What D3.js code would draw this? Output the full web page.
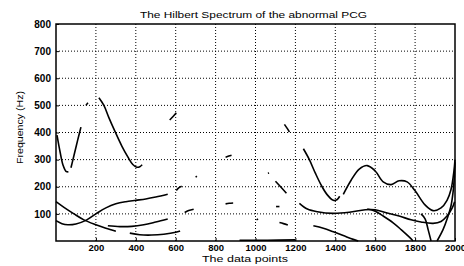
<!DOCTYPE html>
<html>
<head>
<meta charset="utf-8">
<script src="https://cdn.jsdelivr.net/npm/d3@7"></script>
<style>
  body { margin: 0; background: #fff; }
  text { font-family: "Liberation Sans", Arial, sans-serif; fill: #000; }
</style>
</head>
<body>
<div id="chart"></div>
<script>
// tick values
const xTicks = [200, 400, 600, 800, 1000, 1200, 1400, 1600, 1800, 2000];
const yTicks = [100, 200, 300, 400, 500, 600, 700, 800];

// instantaneous frequency traces, [data point, Hz]
const imfDipLeft  = [[5, 390], [20, 330], [35, 280], [50, 257], [62, 255]];
const imfRiseLeft = [[75, 270], [90, 315], [108, 370], [125, 420]];
const imfHighFall = [[215, 528], [240, 500], [265, 455], [295, 405], [330, 350], [360, 310], [385, 282], [405, 272], [420, 274], [432, 281]];
const imfLowRise  = [[0, 75], [30, 64], [60, 60], [100, 63], [150, 76], [200, 100], [250, 122], [300, 137], [350, 145], [400, 150], [450, 155], [500, 162], [560, 172]];
const imfLowFall  = [[0, 145], [40, 124], [90, 100], [140, 78], [200, 60], [250, 47], [300, 36]];
const imfMidFlat  = [[260, 56], [320, 53], [380, 54], [440, 60], [500, 70], [560, 81]];
const imfBottom   = [[370, 29], [420, 23], [480, 22], [540, 25], [600, 32], [622, 37]];
const imfRightA   = [[1240, 340], [1270, 300], [1300, 250], [1330, 205], [1360, 170], [1390, 150], [1408, 152], [1422, 165]];
const imfRightB   = [[1440, 172], [1480, 225], [1520, 265], [1560, 278], [1600, 258], [1640, 218], [1680, 208], [1720, 222], [1760, 218], [1800, 185], [1850, 133], [1890, 112], [1930, 122], [1960, 150], [1980, 190], [1995, 260], [2000, 300]];
const imfRightMid = [[1220, 139], [1260, 118], [1310, 108], [1390, 102], [1470, 106], [1550, 115], [1600, 115], [1660, 103], [1720, 92], [1780, 78], [1830, 70], [1890, 65], [1930, 72], [1960, 92], [1985, 120], [1998, 145]];
const imfRightDn  = [[1560, 118], [1600, 110], [1640, 92], [1690, 67], [1730, 42], [1770, 15], [1790, 0]];
const imfDropJ    = [[1830, 100], [1850, 82], [1866, 40], [1880, 0]];
const imfRiseK    = [[1910, 0], [1940, 42], [1962, 85], [1980, 130], [1991, 185], [1997, 240], [2000, 290]];
const imfRightLow = [[1290, 56], [1340, 47], [1390, 34], [1440, 20], [1490, 6], [1515, 0]];

// short broken fragments in the middle of the record
const fragments = [
  [[570, 446], [588, 460], [603, 473]],
  [[1145, 430], [1158, 416], [1170, 402]],
  [[850, 309], [866, 313], [880, 316]],
  [[1100, 220], [1128, 198], [1155, 176]],
  [[1120, 68], [1140, 64], [1162, 59]],
  [[603, 186], [615, 196], [630, 202]],
  [[645, 105], [665, 112], [690, 117]],
  [[850, 137], [868, 139], [888, 140]],
  [[1103, 127], [1112, 127], [1120, 127]],
  [[920, 3], [1060, 3], [1200, 4]],
  [[150, 500], [160, 510]],
  [[700, 235], [706, 239]],
  [[1062, 250], [1068, 251]],
  [[1005, 78], [1013, 81]]
];

const curves = [imfDipLeft, imfRiseLeft, imfHighFall, imfLowRise, imfLowFall, imfMidFlat, imfBottom,
  imfRightA, imfRightB, imfRightMid, imfRightDn, imfDropJ, imfRiseK, imfRightLow];

const W = 464, H = 266;
const margin = { top: 24, right: 9, bottom: 25, left: 56 };
const width = W - margin.left - margin.right;
const height = H - margin.top - margin.bottom;

const svg = d3.select('#chart').append('svg')
  .attr('width', W).attr('height', H);

const g = svg.append('g')
  .attr('transform', 'translate(' + margin.left + ',' + margin.top + ')');

const x = d3.scaleLinear().domain([0, 2000]).range([0, width]);
const y = d3.scaleLinear().domain([0, 800]).range([height, 0]);

// dotted grid
g.append('g').selectAll('line').data(xTicks.slice(0, -1)).join('line')
  .attr('x1', d => x(d)).attr('x2', d => x(d))
  .attr('y1', 0).attr('y2', height)
  .attr('stroke', '#000').attr('stroke-width', 1)
  .attr('stroke-dasharray', '1,2');
g.append('g').selectAll('line').data(yTicks.slice(0, -1)).join('line')
  .attr('x1', 0).attr('x2', width)
  .attr('y1', d => y(d)).attr('y2', d => y(d))
  .attr('stroke', '#000').attr('stroke-width', 1)
  .attr('stroke-dasharray', '1,2');

// axes, matlab style ticks pointing inward
const xAxis = g.append('g').attr('transform', 'translate(0,' + height + ')')
  .call(d3.axisBottom(x).tickValues(xTicks).tickFormat(d3.format('d')).tickSize(-3).tickPadding(3));
const yAxis = g.append('g')
  .call(d3.axisLeft(y).tickValues(yTicks).tickFormat(d3.format('d')).tickSize(-3).tickPadding(5));

[xAxis, yAxis].forEach(a => {
  a.select('.domain').remove();
  a.selectAll('line').attr('stroke', '#000');
  a.selectAll('text')
    .style('font-family', '"Liberation Sans", Arial, sans-serif')
    .style('font-weight', 'bold');
});
xAxis.selectAll('text').style('font-size', '9.5px');
yAxis.selectAll('text').style('font-size', '10px');

// box
g.append('rect')
  .attr('width', width).attr('height', height)
  .attr('fill', 'none').attr('stroke', '#000').attr('stroke-width', 1.5);

const line = d3.line()
  .x(d => x(d[0])).y(d => y(d[1]))
  .curve(d3.curveCatmullRom);

g.append('g').selectAll('path').data(curves).join('path')
  .attr('d', line)
  .attr('fill', 'none').attr('stroke', '#000')
  .attr('stroke-width', 1.6);

g.append('g').selectAll('path').data(fragments).join('path')
  .attr('d', line)
  .attr('fill', 'none').attr('stroke', '#000')
  .attr('stroke-width', 1.6);

// titles
svg.append('text')
  .attr('x', 140).attr('y', 18)
  .attr('textLength', 227).attr('lengthAdjust', 'spacingAndGlyphs')
  .style('font-size', '9px')
  .text('The Hilbert Spectrum of the abnormal PCG');

svg.append('text')
  .attr('x', 202).attr('y', 262)
  .attr('textLength', 86).attr('lengthAdjust', 'spacingAndGlyphs')
  .style('font-size', '9px')
  .text('The data points');

svg.append('text')
  .attr('transform', 'translate(23,164) rotate(-90)')
  .attr('textLength', 73).attr('lengthAdjust', 'spacingAndGlyphs')
  .style('font-size', '8.5px')
  .text('Frequency (Hz)');
</script>
</body>
</html>
